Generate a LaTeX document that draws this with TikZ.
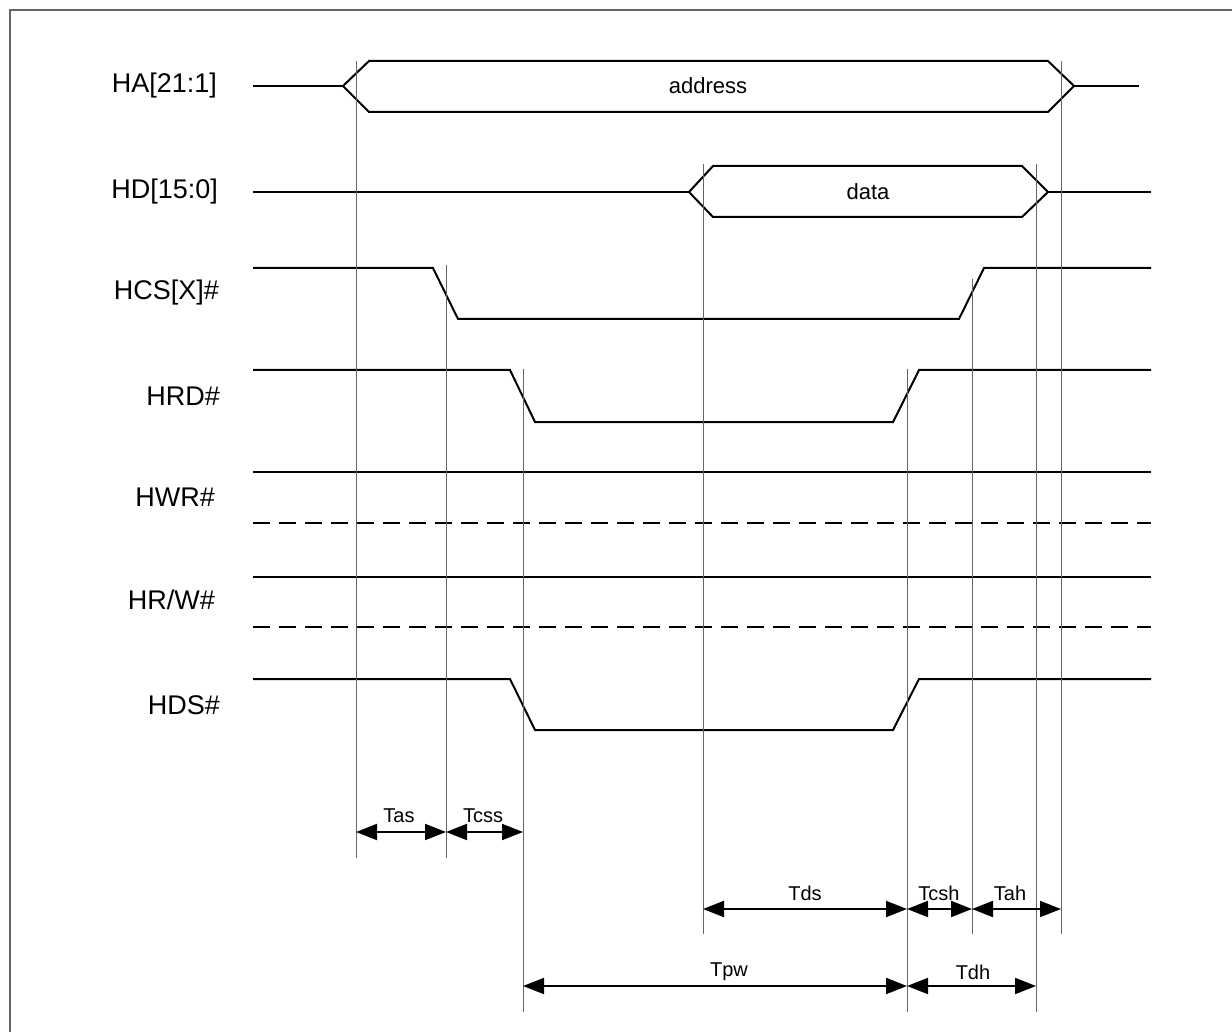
\documentclass[tikz,border=0pt]{standalone}
\usepackage{fontspec}
\setmainfont{Liberation Sans}
\usetikzlibrary{arrows.meta}

\begin{document}
\begin{tikzpicture}[x=0.5pt, y=-0.5pt,
                    wave/.style={line width=1pt, line join=miter},
                    guide/.style={line width=0.5pt, draw=black!60},
                    dimarrow/.style={line width=1pt, {Triangle[length=10.5pt,width=8pt]}-{Triangle[length=10.5pt,width=8pt]}},
                    signame/.style={anchor=east, font=\fontsize{13.5}{16}\selectfont},
                    busval/.style={font=\fontsize{11}{13}\selectfont},
                    dimname/.style={font=\fontsize{10}{12}\selectfont}]
  \useasboundingbox (0,0) rectangle (1232,1032);
  \draw[black!60, line width=0.6pt] (10,1032) -- (10,10) -- (1232,10);

  % edge positions
  \coordinate (eas) at (356,0);
  \coordinate (ecs) at (446,0);
  \coordinate (erd) at (523,0);
  \coordinate (eds) at (703,0);
  \coordinate (epw) at (907,0);
  \coordinate (ech) at (972,0);
  \coordinate (edh) at (1036,0);
  \coordinate (eah) at (1061,0);

  % signal names
  \node[signame] (nha)  at (224,86)  {HA[21:1]};
  \node[signame] (nhd)  at (225,192) {HD[15:0]};
  \node[signame] (nhcs) at (226,293) {HCS[X]\#};
  \node[signame] (nhrd) at (227,396) {HRD\#};
  \node[signame] (nhwr) at (222,497) {HWR\#};
  \node[signame] (nhrw) at (222,600) {HR/W\#};
  \node[signame] (nhds) at (227,705) {HDS\#};

  % waveforms
  \draw[wave] (253,86) -- (343,86);
  \draw[wave] (343,86) -- (369,61) -- (1048,61) -- (1074,86) -- (1048,112) -- (369,112) -- cycle;
  \draw[wave] (1074,86) -- (1139,86);
  \node[busval] (vaddr) at (708,86) {address};

  \draw[wave] (253,192) -- (689,192);
  \draw[wave] (689,192) -- (713,166) -- (1022,166) -- (1048,192) -- (1022,217) -- (713,217) -- cycle;
  \draw[wave] (1048,192) -- (1151,192);
  \node[busval] (vdata) at (868,192) {data};

  \draw[wave] (253,268) -- (433,268) -- (458,319) -- (959,319) -- (984,268) -- (1151,268);
  \draw[wave] (253,370) -- (510,370) -- (535,422) -- (893,422) -- (919,370) -- (1151,370);
  \draw[wave] (253,472) -- (1151,472);
  \draw[wave, dash pattern=on 8.5pt off 4.5pt] (253,523) -- (1151,523);
  \draw[wave] (253,577) -- (1151,577);
  \draw[wave, dash pattern=on 8.5pt off 4.5pt] (253,627) -- (1151,627);
  \draw[wave] (253,679) -- (510,679) -- (535,730) -- (893,730) -- (919,679) -- (1151,679);

  % guide lines
  \draw[guide] (eas |- 0,61)  -- (eas |- 0,858);
  \draw[guide] (ecs |- 0,265) -- (ecs |- 0,858);
  \draw[guide] (erd |- 0,369) -- (erd |- 0,1012);
  \draw[guide] (eds |- 0,164) -- (eds |- 0,934);
  \draw[guide] (epw |- 0,369) -- (epw |- 0,1012);
  \draw[guide] (ech |- 0,279) -- (ech |- 0,934);
  \draw[guide] (edh |- 0,164) -- (edh |- 0,1012);
  \draw[guide] (eah |- 0,61)  -- (eah |- 0,934);

  % timing parameters
  \draw[dimarrow] (eas |- 0,832) -- (ecs |- 0,832);
  \draw[dimarrow] (ecs |- 0,832) -- (erd |- 0,832);
  \node[dimname] (tas)  at (399,816) {Tas};
  \node[dimname] (tcss) at (483,816) {Tcss};

  \draw[dimarrow] (eds |- 0,909) -- (epw |- 0,909);
  \draw[dimarrow] (epw |- 0,909) -- (ech |- 0,909);
  \draw[dimarrow] (ech |- 0,909) -- (eah |- 0,909);
  \node[dimname] (tds)  at (805,893) {Tds};
  \node[dimname] (tcsh) at (939,893) {Tcsh};
  \node[dimname] (tah)  at (1010,893) {Tah};

  \draw[dimarrow] (erd |- 0,986) -- (epw |- 0,986);
  \draw[dimarrow] (epw |- 0,986) -- (edh |- 0,986);
  \node[dimname] (tpw)  at (729,972) {Tpw};
  \node[dimname] (tdh)  at (973,972) {Tdh};
\end{tikzpicture}
\end{document}
